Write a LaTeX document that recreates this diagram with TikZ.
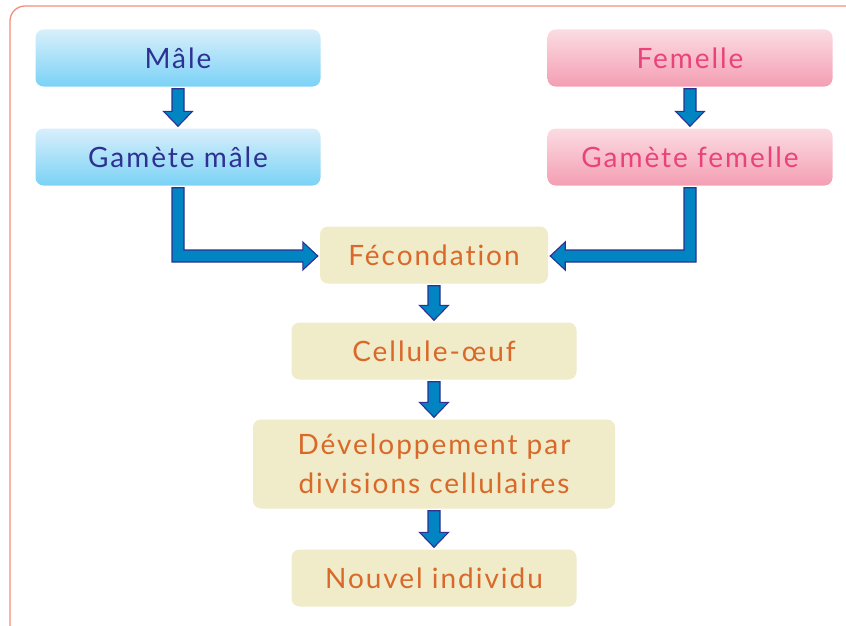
\documentclass[tikz,border=0pt]{standalone}
\usepackage{fontspec}
\setmainfont{Lato}[LetterSpace=7, Ligatures=NoCommon]
\usetikzlibrary{calc}
\definecolor{maletop}{HTML}{D8EFFB}
\definecolor{malebot}{HTML}{7AD2F6}
\definecolor{maletext}{HTML}{2E3192}
\definecolor{femtop}{HTML}{FBDCE2}
\definecolor{fembot}{HTML}{F49EB3}
\definecolor{femtext}{HTML}{EA437B}
\definecolor{stepfill}{HTML}{F0EBC8}
\definecolor{steptext}{HTML}{D9692A}
\definecolor{arrowfill}{HTML}{0084C2}
\definecolor{arrowline}{HTML}{2E3192}
\definecolor{framecol}{HTML}{F58C7E}

% straight block arrow, downwards
\newcommand{\downblock}[2]{%
  \coordinate (t) at ($(#1.south)+(0,2)$);
  \coordinate (b) at ($(t |- #2.north)+(0,-2)$);
  \filldraw[blockarrow] ($(t)+(-6,0)$) -- ($(b)+(-6,-15)$) -- ($(b)+(-14.5,-15)$) -- (b)
    -- ($(b)+(14.5,-15)$) -- ($(b)+(6,-15)$) -- ($(t)+(6,0)$) -- cycle;}

% bent block arrow: #1 from, #2 to, #3 anchor, #4 side (1 right, -1 left)
\newcommand{\sideblock}[4]{%
  \coordinate (t) at ($(#1.south)+(0,2)$);
  \coordinate (c) at ($(t |- #2.center)+(0,1)$);
  \coordinate (p) at ($(#2.#3)+(#4*-2,0)$);
  \filldraw[blockarrow] ($(t)+(#4*-6,0)$) -- ($(c)+(#4*-6,6)$) -- ($(p |- c)+(#4*-15,6)$)
    -- ($(p |- c)+(#4*-15,14)$) -- (p |- c) -- ($(p |- c)+(#4*-15,-14)$)
    -- ($(p |- c)+(#4*-15,-6)$) -- ($(c)+(#4*6,-6)$) -- ($(t)+(#4*6,0)$) -- cycle;}

\begin{document}
\begin{tikzpicture}[x=1pt,y=-1pt,
    box/.style={
      rectangle,
      rounded corners=8pt,
      minimum width=285pt,
      minimum height=57pt,
      inner sep=0pt,
      align=center,
      font=\fontsize{28}{39}\selectfont,
    },
    malebox/.style={box, top color=maletop, bottom color=malebot, text=maletext},
    fembox/.style={box, top color=femtop, bottom color=fembot, text=femtext},
    stepbox/.style={box, fill=stepfill, text=steptext},
    blockarrow/.style={fill=arrowfill, draw=arrowline, line width=1.1pt, line join=miter}]
  \useasboundingbox (0,0) rectangle (846,626);
  \draw[framecol, line width=1.3pt, rounded corners=15pt] (10,6) rectangle (880,660);

  \node[malebox] (male) at (178,58) {Mâle};
  \node[malebox] (gmale) at (178,157) {Gamète mâle};
  \node[fembox] (female) at (690,58) {Femelle};
  \node[fembox] (gfemale) at (690,157) {Gamète femelle};

  \node[stepbox, minimum width=228pt] (fec) at (434,255) {Fécondation};
  \node[stepbox] (egg) at (434,351) {Cellule-œuf};
  \node[stepbox, minimum width=362pt, minimum height=89pt] (dev) at (434,464) {Développement par\\divisions cellulaires};
  \node[stepbox] (new) at (434,578) {Nouvel individu};

  \downblock{male}{gmale}
  \downblock{female}{gfemale}
  \sideblock{gmale}{fec}{west}{1}
  \sideblock{gfemale}{fec}{east}{-1}
  \downblock{fec}{egg}
  \downblock{egg}{dev}
  \downblock{dev}{new}
\end{tikzpicture}
\end{document}
